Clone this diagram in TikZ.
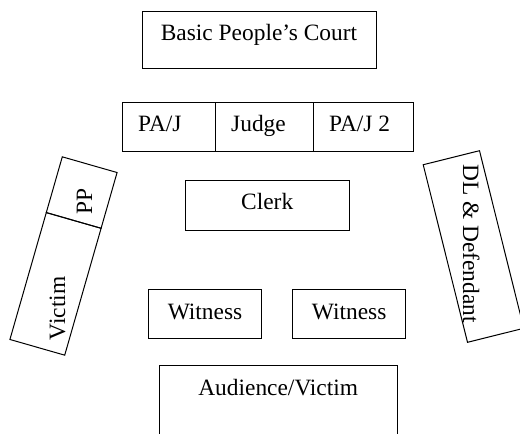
\documentclass[tikz,border=0pt]{standalone}
\usepackage{fontspec}
\setmainfont{Liberation Serif}
\usetikzlibrary{positioning} % For easy node-relative placements
\tikzstyle{seat} = [rectangle, draw=black, line width=1pt, inner sep=0pt, outer sep=0pt]
\tikzstyle{seat_text} = [inner sep=0pt, anchor=base, font=\fontsize{23.4}{28}\selectfont]

\begin{document}
\begin{tikzpicture}[x=1pt, y=-1pt]
  \useasboundingbox (0, 0) rectangle (520, 434);
  \clip (0, 0) rectangle (520, 434);
  % court
  \node (court) [seat, minimum width=234, minimum height=57] at (259, 39.5) {};
  \node (court_t) [seat_text] at ([yshift=-29.5]court.north) {Basic People's Court};
  % bench
  \node (paj1) [seat, minimum width=93, minimum height=49, anchor=north west] at (122, 102.3) {};
  \node (judge) [seat, minimum width=98, minimum height=49, right=0pt of paj1] {};
  \node (paj2) [seat, minimum width=100, minimum height=49, right=0pt of judge] {};
  \node (paj1_t) [seat_text, anchor=base west] at ([xshift=16, yshift=-29.5]paj1.north west) {PA/J};
  \node (judge_t) [seat_text, anchor=base west] at ([xshift=16, yshift=-29.5]judge.north west) {Judge};
  \node (paj2_t) [seat_text, anchor=base west] at ([xshift=16, yshift=-29.5]paj2.north west) {PA/J 2};
  % clerk
  \node (clerk) [seat, minimum width=164, minimum height=50] at (267.2, 205) {};
  \node (clerk_t) [seat_text] at ([yshift=-29.5]clerk.north) {Clerk};
  % witnesses
  \node (witness1) [seat, minimum width=113.4, minimum height=49] at (205, 313.8) {};
  \node (witness2) [seat, minimum width=113, minimum height=49] at (349.2, 313.8) {};
  \node (witness1_t) [seat_text] at ([yshift=-30]witness1.north) {Witness};
  \node (witness2_t) [seat_text] at ([yshift=-30]witness2.north) {Witness};
  % audience
  \node (audience) [seat, minimum width=238.3, minimum height=80] at (278.2, 405) {};
  \node (audience_t) [seat_text] at ([yshift=-30]audience.north) {Audience/Victim};
  % prosecution side
  \begin{scope}[shift={(63.5, 256)}, rotate=-16, transform shape]
    \node (pp) [seat, minimum width=57, minimum height=58] at (0, -66) {};
    \node (victim) [seat, minimum width=57, minimum height=132] at (0, 29) {};
  \end{scope}
  \node (pp_t) [seat_text, rotate=90] at (92, 201) {PP};
  \node (victim_t) [seat_text, rotate=90] at (65, 308.5) {Victim};
  % defence side
  \begin{scope}[shift={(473.5, 246.5)}, rotate=14, transform shape]
    \node (defence) [seat, minimum width=58, minimum height=183] at (0, 0) {};
  \end{scope}
  \node (defence_t) [seat_text, rotate=-90] at (463, 243.5) {DL \& Defendant};
\end{tikzpicture}
\end{document}
